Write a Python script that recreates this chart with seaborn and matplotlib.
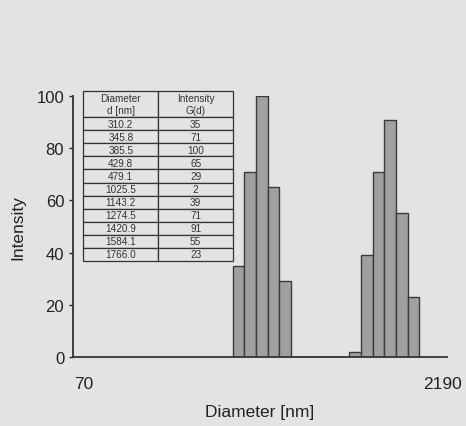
import numpy as np
import seaborn as sns
import matplotlib.pyplot as plt

diameter = [310.2, 345.8, 385.5, 429.8, 479.1, 1025.5, 1143.2, 1274.5, 1420.9, 1584.1, 1766.0]
intensity = [35, 71, 100, 65, 29, 2, 39, 71, 91, 55, 23]
diam_labels = ["310.2", "345.8", "385.5", "429.8", "479.1", "1025.5", "1143.2", "1274.5", "1420.9", "1584.1", "1766.0"]
header = ["Diameter\nd [nm]", "Intensity\nG(d)"]

bg = "#e3e3e3"
sns.set_style("ticks")
plt.rcParams["font.family"] = ["Liberation Sans", "DejaVu Sans"]

fig = plt.figure(figsize=(4.66, 4.27), dpi=100, facecolor=bg)
ax = fig.add_axes([0.157, 0.1616, 0.802, 0.6112])
ax.set_facecolor(bg)

# bins are evenly spaced in log10 units, same step as the data
step = np.log10(diameter[1] / diameter[0])
lo = np.log10(diameter[0]) - step / 2
hi = np.log10(diameter[-1]) + step / 2
sns.histplot(x=diameter, weights=intensity, log_scale=True, bins=16,
             binrange=(lo, hi), color="#a0a0a0", edgecolor="#3a3a3a",
             linewidth=1.0, alpha=1, ax=ax)

ax.set_xlim(10 ** 1.7835, 10 ** 3.389)
ax.set_ylim(0, 100)
ax.set_xticks([])
ax.minorticks_off()
ax.set_yticks([0, 20, 40, 60, 80, 100])
ax.tick_params(axis="y", labelsize=12, length=3, width=1, colors="#222222")
sns.despine(ax=ax)
for s in ["left", "bottom"]:
    ax.spines[s].set_linewidth(1.3)
    ax.spines[s].set_color("#333333")

ax.text(0.003, -0.1, "70", transform=ax.transAxes, ha="left", va="center", fontsize=12.5, color="#222222")
ax.text(1.04, -0.1, "2190", transform=ax.transAxes, ha="right", va="center", fontsize=12.5, color="#222222")
ax.set_xlabel("Diameter [nm]", fontsize=12.5, labelpad=34, color="#222222")
ax.set_ylabel("Intensity", fontsize=12.5, labelpad=8, color="#222222")

cells = [[d, str(v)] for d, v in zip(diam_labels, intensity)]
tab = ax.table(cellText=cells, colLabels=header, cellLoc="center",
               bbox=[0.027, 0.368, 0.401, 0.651])
tab.auto_set_font_size(False)
tab.set_fontsize(7.2)
n = len(cells) + 2
for (r, c), cell in tab.get_celld().items():
    cell.set_facecolor(bg)
    cell.set_edgecolor("#333333")
    cell.set_linewidth(0.9)
    cell.get_text().set_color("#333333")
    cell.set_height(2 / n if r == 0 else 1 / n)

fig.savefig("out.png", dpi=100, facecolor=bg)
